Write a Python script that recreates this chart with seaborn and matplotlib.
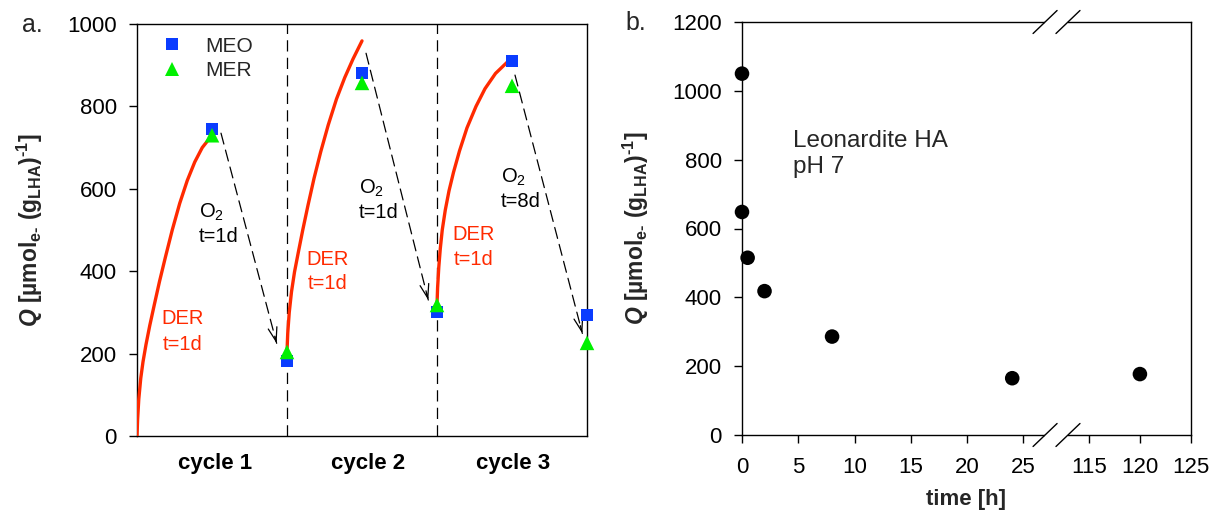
import numpy as np
import pandas as pd
import matplotlib
matplotlib.use("Agg")
import matplotlib.pyplot as plt
from matplotlib.lines import Line2D
import seaborn as sns

# ---------------- Panel a data ----------------
cycle_labels = ["cycle 1", "cycle 2", "cycle 3"]
cycle_label_pos = [0.52, 1.54, 2.51]
cycle_bounds = [1.0, 2.0]
sample_pos = [0.5, 1.0, 1.5, 2.0, 2.5, 3.0]
meo_values = [745, 182, 881, 301, 910, 294]
mer_values = [730, 204, 857, 318, 850, 226]

der1_x = [0.0, 0.004, 0.012, 0.025, 0.04, 0.06, 0.085, 0.115, 0.15, 0.19, 0.235, 0.285, 0.335, 0.385, 0.435, 0.5]
der1_q = [0, 40, 90, 140, 180, 222, 268, 318, 375, 435, 500, 565, 620, 665, 700, 730]
der2_x = [1.0, 1.005, 1.015, 1.03, 1.05, 1.075, 1.105, 1.14, 1.18, 1.225, 1.275, 1.33, 1.385, 1.44, 1.5]
der2_q = [205, 250, 300, 350, 398, 445, 500, 560, 625, 690, 755, 818, 870, 915, 959]
der3_x = [2.0, 2.004, 2.012, 2.022, 2.035, 2.055, 2.08, 2.11, 2.15, 2.2, 2.26, 2.32, 2.39, 2.47]
der3_q = [318, 360, 410, 455, 500, 548, 595, 640, 692, 748, 800, 843, 880, 908]

arrow_start_x = [0.56, 1.527, 2.52]
arrow_start_q = [735, 929, 876]
arrow_end_x = [0.931, 1.942, 2.969]
arrow_end_q = [225, 330, 249]

der_label_x = [0.302, 1.273, 2.247]
der_label_q1 = [271, 416, 475]
der_label_q2 = [208, 356, 414]
der_label_t = ["t=1d", "t=1d", "t=1d"]
o2_label_x = [0.413, 1.48, 2.425]
o2_label_q1 = [530, 589, 615]
o2_label_q2 = [470, 528, 555]
o2_label_t = ["t=1d", "t=1d", "t=8d"]

# ---------------- Panel b data ----------------
time_h = [0, 0, 0.5, 2, 8, 24, 120]
q_b = [1050, 648, 515, 418, 286, 165, 177]
xticks_b = [0, 5, 10, 15, 20, 25, 115, 120, 125]
yticks_a = [0, 200, 400, 600, 800, 1000]
yticks_b = [0, 200, 400, 600, 800, 1000, 1200]

RED = "#FF2A00"
BLUE = "#0A3CFF"
GREEN = "#00F000"
FS_TICK = 16
FS_NOTE = 14.5
FS_LAB = 16

sns.set_style("ticks")
plt.rcParams.update({
    "mathtext.fontset": "custom",
    "mathtext.it": "Liberation Sans:italic:bold",
    "mathtext.rm": "Liberation Sans:bold",
    "mathtext.bf": "Liberation Sans:bold",
    "axes.linewidth": 1.0,
    "axes.edgecolor": "black",
    "xtick.color": "black",
    "ytick.color": "black",
})
plt.rcParams["font.family"] = ["Liberation Sans", "DejaVu Sans"]

fig = plt.figure(figsize=(12.15, 5.17), dpi=100)
axA = fig.add_axes([137 / 1215, 81 / 517, 450 / 1215, 412 / 517])
axB = fig.add_axes([742 / 1215, 82 / 517, 449 / 1215, 413 / 517])

# ---------- Panel a ----------
der_df = pd.concat([
    pd.DataFrame({"x": der1_x, "Q": der1_q, "seg": 1}),
    pd.DataFrame({"x": der2_x, "Q": der2_q, "seg": 2}),
    pd.DataFrame({"x": der3_x, "Q": der3_q, "seg": 3}),
])
sns.lineplot(data=der_df, x="x", y="Q", units="seg", estimator=None, sort=False,
             color=RED, lw=2.4, ax=axA, legend=False, zorder=3)

for b in cycle_bounds:
    axA.axvline(b, color="black", lw=0.9, ls=(0, (9, 5)), zorder=1)

for sx, sq, ex, eq in zip(arrow_start_x, arrow_start_q, arrow_end_x, arrow_end_q):
    axA.annotate("", xy=(ex, eq), xytext=(sx, sq),
                 arrowprops=dict(arrowstyle="-", lw=0.9, color="black",
                                 linestyle=(0, (9, 5)), shrinkA=0, shrinkB=0))
    hx = ex - 0.03 * (ex - sx)
    hq = eq - 0.03 * (eq - sq)
    axA.annotate("", xy=(ex, eq), xytext=(hx, hq),
                 arrowprops=dict(arrowstyle="->,head_length=0.5,head_width=0.16",
                                 lw=0.9, color="black", mutation_scale=20,
                                 shrinkA=0, shrinkB=0))

pts = pd.DataFrame({
    "x": sample_pos * 2,
    "Q": meo_values + mer_values,
    "series": ["MEO"] * len(sample_pos) + ["MER"] * len(sample_pos),
})
sns.scatterplot(data=pts, x="x", y="Q", hue="series", style="series", size="series",
                markers={"MEO": "s", "MER": "^"},
                palette={"MEO": BLUE, "MER": GREEN},
                sizes={"MEO": 78, "MER": 110},
                edgecolor="none", ax=axA, legend=False, zorder=5, clip_on=False)

handles = [
    Line2D([], [], ls="none", marker="s", color=BLUE, markersize=8.8, markeredgewidth=0),
    Line2D([], [], ls="none", marker="^", color=GREEN, markersize=10.5, markeredgewidth=0),
]
axA.legend(handles, ["MEO", "MER"], loc="upper left", bbox_to_anchor=(0.054, 0.969),
           frameon=False, fontsize=15, handlelength=1.0, handletextpad=1.1,
           labelspacing=0.25, borderpad=0, borderaxespad=0)

for x, q1, q2, t in zip(der_label_x, der_label_q1, der_label_q2, der_label_t):
    axA.text(x, q1, "DER", color=RED, fontsize=FS_NOTE, ha="center", va="baseline")
    axA.text(x, q2, t, color=RED, fontsize=FS_NOTE, ha="center", va="baseline")
for x, q1, q2, t in zip(o2_label_x, o2_label_q1, o2_label_q2, o2_label_t):
    axA.text(x, q1, r"O$_{\mathregular{2}}$", color="black", fontsize=FS_NOTE, ha="left", va="baseline")
    axA.text(x, q2, t, color="black", fontsize=FS_NOTE, ha="left", va="baseline")

axA.set_xlim(0, 3)
axA.set_ylim(0, 1000)
axA.set_yticks(yticks_a)
axA.set_xticks(cycle_label_pos)
axA.set_xticklabels(cycle_labels, fontweight="bold")
axA.tick_params(axis="x", length=0, pad=12, labelsize=FS_LAB)
axA.tick_params(axis="y", direction="out", length=6, width=1.0, pad=8.5, labelsize=FS_TICK)
axA.set_xlabel("")
ylab = r"$\mathit{Q}$ [µmol$_{\text{e-}}$ (g$_{\text{LHA}}$)$^{\text{-1}}$]"
axA.set_ylabel(ylab, fontsize=16.5, fontweight="bold")
axA.yaxis.set_label_coords(-0.205, 0.5)
fig.text(22 / 1215, 1 - 25 / 517, "a.", fontsize=18, ha="left", va="center")

# ---------- Panel b ----------
BREAK_LO, BREAK_HI = 27.9, 111.8
RATIO = 10.2 / 11.24


def fwd(x):
    x = np.asarray(x, dtype=float)
    return np.where(x <= 70, x, BREAK_LO + (x - BREAK_HI) * RATIO)


def inv(y):
    y = np.asarray(y, dtype=float)
    return np.where(y <= BREAK_LO, y, BREAK_HI + (y - BREAK_LO) / RATIO)


axB.set_xscale("function", functions=(fwd, inv))
dfb = pd.DataFrame({"time": time_h, "Q": q_b})
sns.scatterplot(data=dfb, x="time", y="Q", color="black", s=110, edgecolor="none",
                ax=axB, zorder=5, clip_on=False)
axB.set_xlim(0, 125)
axB.set_ylim(0, 1200)
axB.set_xticks(xticks_b)
axB.set_xticklabels([str(v) for v in xticks_b])
axB.set_yticks(yticks_b)
axB.minorticks_off()
axB.tick_params(axis="both", direction="out", length=6, width=1.0, labelsize=FS_TICK)
axB.tick_params(axis="x", pad=10)
axB.tick_params(axis="y", pad=8.5)
axB.set_xlabel("time [h]", fontsize=FS_LAB, fontweight="bold", labelpad=8)
axB.set_ylabel(ylab, fontsize=16.5, fontweight="bold")
axB.yaxis.set_label_coords(-0.203, 0.5)
axB.text(4.54, 838, "Leonardite HA", fontsize=17.5, ha="left", va="baseline")
axB.text(4.54, 761, "pH 7", fontsize=17.5, ha="left", va="baseline")
fig.text(625 / 1215, 1 - 23 / 517, "b.", fontsize=18, ha="left", va="center")

# axis-break marks
bx = [0.675, 0.726]
dx, dy = 12 / 449, 11.5 / 413
for yy in (0.0, 1.0):
    axB.plot(bx, [yy, yy], transform=axB.transAxes, color="white", lw=3,
             clip_on=False, zorder=6, solid_capstyle="butt")
    for cx in bx:
        axB.plot([cx - dx, cx + dx], [yy - dy, yy + dy], transform=axB.transAxes,
                 color="black", lw=1.0, clip_on=False, zorder=7)

for ax in (axA, axB):
    for s in ax.spines.values():
        s.set_visible(True)
        s.set_color("black")
        s.set_linewidth(1.0)

fig.savefig("out.png", dpi=100)
